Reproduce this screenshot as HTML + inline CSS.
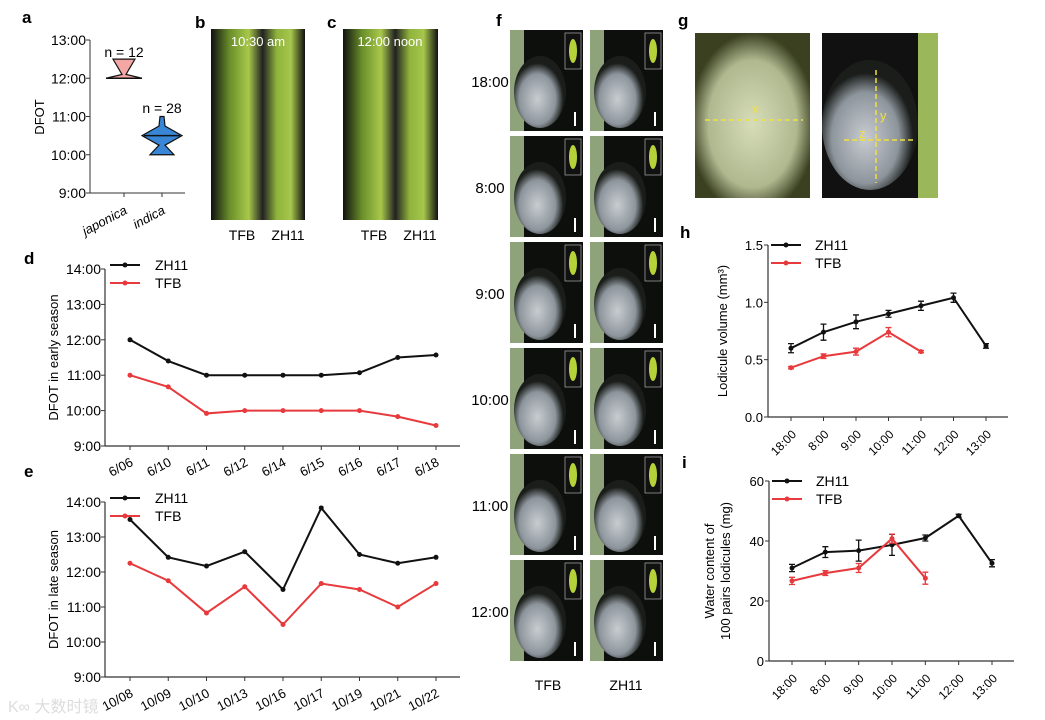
<!DOCTYPE html>
<html><head><meta charset="utf-8"><style>
body{margin:0;background:#fff;width:1045px;height:720px;overflow:hidden;font-family:"Liberation Sans",sans-serif}
svg{position:absolute;left:0;top:0}
</style></head><body>
<svg width="1045" height="720" xmlns="http://www.w3.org/2000/svg" id="fig" font-family="Liberation Sans, sans-serif">
<defs>
<linearGradient id="rice" x1="0" x2="1"><stop offset="0" stop-color="#111"/><stop offset="0.2" stop-color="#6a8f2a"/><stop offset="0.4" stop-color="#a8c84a"/><stop offset="0.55" stop-color="#222"/><stop offset="0.7" stop-color="#8fb33c"/><stop offset="0.85" stop-color="#a6c64c"/><stop offset="1" stop-color="#111"/></linearGradient>
<radialGradient id="lod" cx="0.45" cy="0.6" r="0.5"><stop offset="0" stop-color="#c8ccd0"/><stop offset="0.7" stop-color="#8d959c"/><stop offset="1" stop-color="#1a1d1a"/></radialGradient>
<radialGradient id="gl" cx="0.5" cy="0.55" r="0.55"><stop offset="0" stop-color="#d6ddb8"/><stop offset="0.7" stop-color="#b0b890"/><stop offset="1" stop-color="#3a4020"/></radialGradient>
</defs>
<g font-weight="bold" font-size="17">
<text x="22" y="23">a</text><text x="195" y="28">b</text><text x="327" y="28">c</text><text x="496" y="26">f</text><text x="678" y="26">g</text><text x="24" y="264">d</text><text x="24" y="477">e</text><text x="680" y="238">h</text><text x="682" y="468">i</text>
</g>
<rect x="211" y="29" width="94" height="191" fill="url(#rice)"/>
<rect x="343" y="29" width="95" height="191" fill="url(#rice)"/>
<text x="258" y="46" fill="#fff" font-size="13" text-anchor="middle">10:30 am</text>
<text x="390" y="46" fill="#fff" font-size="13" text-anchor="middle">12:00 noon</text>
<g font-size="14" text-anchor="middle"><text x="242" y="240">TFB</text><text x="288" y="240">ZH11</text><text x="374" y="240">TFB</text><text x="420" y="240">ZH11</text></g>
<g id="fphotos"></g>
<g font-size="14" text-anchor="middle"><text x="548" y="690">TFB</text><text x="626" y="690">ZH11</text></g>
<rect x="695" y="33" width="115" height="165" fill="url(#gl)"/>
<rect x="822" y="33" width="116" height="165" fill="#111"/>
<ellipse cx="870" cy="125" rx="48" ry="65" fill="url(#lod)"/>
<rect x="918" y="33" width="20" height="165" fill="#9ab85a"/>
<g stroke="#f2e040" stroke-width="1.5" stroke-dasharray="5,3" fill="none"><line x1="705" y1="120" x2="803" y2="120"/><line x1="844" y1="140" x2="915" y2="140"/><line x1="876" y1="70" x2="876" y2="183"/></g>
<g fill="#f2e040" font-size="13"><text x="752" y="113">x</text><text x="880" y="120">y</text><text x="859" y="138">z</text></g>
<g id="charts"></g>
<text x="8" y="712" fill="#ddd" font-size="16" font-family="Liberation Sans, Noto Sans CJK SC, sans-serif">K∞ 大数时镜</text>
</svg>
<script>
const NS="http://www.w3.org/2000/svg";
const fCats=["18:00","8:00","9:00","10:00","11:00","12:00"];
const hCats=["18:00","8:00","9:00","10:00","11:00","12:00","13:00"];
const dCats=["6/06","6/10","6/11","6/12","6/14","6/15","6/16","6/17","6/18"];
const dZH11=[12.0,11.4,11.0,11.0,11.0,11.0,11.07,11.5,11.57];
const dTFB=[11.0,10.67,9.92,10.0,10.0,10.0,10.0,9.83,9.58];
const eCats=["10/08","10/09","10/10","10/13","10/16","10/17","10/19","10/21","10/22"];
const eZH11=[13.5,12.42,12.17,12.58,11.5,13.83,12.5,12.25,12.42];
const eTFB=[12.25,11.75,10.83,11.58,10.5,11.67,11.5,11.0,11.67];
const timeTicks=["9:00","10:00","11:00","12:00","13:00","14:00"];
const hZH11=[0.60,0.74,0.83,0.90,0.97,1.04,0.62];
const hZH11err=[0.04,0.07,0.06,0.03,0.04,0.04,0.02];
const hTFB=[0.43,0.53,0.57,0.74,0.57];
const hTFBerr=[0.01,0.02,0.03,0.04,0.01];
const hTicks=[0,0.5,1.0,1.5];
const iZH11=[31,36.3,36.8,38.7,41,48.4,32.6];
const iZH11err=[1.2,1.8,3.5,3.5,1,0.5,1.2];
const iTFB=[26.7,29.3,31,40.8,27.6];
const iTFBerr=[1.2,0.8,1.5,1.5,2];
const iTicks=[0,20,40,60];
const aCats=["japonica","indica"];
const aMin=[12.0,10.0], aMed=[12.05,10.5], aMax=[12.5,11.0];
const aTicks=["9:00","10:00","11:00","12:00","13:00"];

const C=document.getElementById('charts');
function el(t,a,p){const e=document.createElementNS(NS,t);for(const k in a)e.setAttribute(k,a[k]);(p||C).appendChild(e);return e;}
function txt(x,y,s,a,p){const e=el('text',Object.assign({x:x,y:y},a||{}),p);e.textContent=s;return e;}

const FP=document.getElementById('fphotos');
fCats.forEach((c,r)=>{
 const y=30+r*106;
 [510,590].forEach((x,k)=>{
  const ph=el('rect',{x:x,y:y,width:73,height:101,fill:'#0d0f0d'},FP);
  
  
  el('rect',{x:x,y:y,width:14,height:101,fill:'#8fa37a'},FP);
  el('ellipse',{cx:x+30,cy:y+62,rx:26,ry:36,fill:'url(#lod)'},FP);
  el('rect',{x:x+55,y:y+3,width:16,height:36,fill:'#111',stroke:'#999','stroke-width':0.8},FP);
  el('ellipse',{cx:x+63,cy:y+21,rx:4,ry:12,fill:'#b6d23a'},FP);
  el('rect',{x:x+64,y:y+82,width:2,height:14,fill:'#fff'},FP);
 });
 const t=txt(490,y+57,c,{'font-size':15,'text-anchor':'middle'});
 
 
});

(function(){
 const x0=90,y13=40,y9=193;const Y=v=>y9-(v-9)*(y9-y13)/4;
 el('line',{x1:x0,y1:y13,x2:x0,y2:y9,stroke:'#333'});el('line',{x1:x0,y1:y9,x2:185,y2:y9,stroke:'#333'});
 aTicks.forEach((t,i)=>{const y=Y(9+i);el('line',{x1:x0-4,y1:y,x2:x0,y2:y,stroke:'#333'});txt(x0-4,y+5,t,{'font-size':14,'text-anchor':'end'});});
 const xs=[124,162],cols=['#f4a6a4','#3a86d6'];
 aCats.forEach((c,i)=>{const x=xs[i];let d;
  const lo=Y(aMin[i]),md=Y(aMed[i]),hi=Y(aMax[i]);
  if(i===0){d=`M${x-18},${lo} L${x+18},${lo} L${x+2},${Y(aMed[i]+0.05)} L${x+11},${hi} L${x-11},${hi} L${x-2},${Y(aMed[i]+0.05)}Z`;}
  else{const q1=Y((aMin[i]+aMed[i])/2),q3=Y((aMax[i]+aMed[i])/2);
   d=`M${x-12},${lo} L${x+12},${lo} L${x+3},${q1} L${x+20},${md} L${x+3},${q3} L${x+2},${hi} L${x-2},${hi} L${x-3},${q3} L${x-20},${md} L${x-3},${q1}Z`;}
  const v=el('path',{d:d,fill:cols[i],stroke:'#111','stroke-width':1.2});
  
  el('line',{x1:x-18,y1:i?md:lo,x2:x+18,y2:i?md:lo,stroke:'#111','stroke-width':1.5});
  el('line',{x1:x,y1:y9,x2:x,y2:y9+4,stroke:'#333'});
  txt(x+4,y9+20,c,{'font-size':13,'font-style':'italic','text-anchor':'end',transform:`rotate(-28 ${x+4} ${y9+20})`});
 });
 txt(124,57,'n = 12',{'font-size':14,'text-anchor':'middle'});txt(162,113,'n = 28',{'font-size':14,'text-anchor':'middle'});
 txt(0,0,'DFOT',{'font-size':13,'text-anchor':'middle',transform:'translate(44,117) rotate(-90)'});
})();

function timeChart(name,cats,s1,s2,yTop,yBot,title){
 const x0=105,xr=460,xa=130,xb=436;const X=i=>xa+i*(xb-xa)/(cats.length-1);const Y=v=>yBot-(v-9)*(yBot-yTop)/5;
 el('line',{x1:x0,y1:yTop,x2:x0,y2:yBot,stroke:'#333','stroke-width':1.2});el('line',{x1:x0,y1:yBot,x2:xr,y2:yBot,stroke:'#333','stroke-width':1.2});
 timeTicks.forEach((t,i)=>{const y=Y(9+i);el('line',{x1:x0-4,y1:y,x2:x0,y2:y,stroke:'#333'});txt(x0-4,y+5,t,{'font-size':14,'text-anchor':'end'});});
 cats.forEach((c,i)=>{const x=X(i);el('line',{x1:x,y1:yBot,x2:x,y2:yBot+4,stroke:'#333'});txt(x+4,yBot+19,c,{'font-size':13,'text-anchor':'end',transform:`rotate(-28 ${x+4} ${yBot+19})`});});
 [[s1,'#111','ZH11'],[s2,'#e8393c','TFB']].forEach(([s,col,n],k)=>{
  const l=el('polyline',{points:s.map((v,i)=>X(i)+','+Y(v)).join(' '),fill:'none',stroke:col,'stroke-width':2});
  
  s.forEach((v,i)=>el('circle',{cx:X(i),cy:Y(v),r:2.5,fill:col}));
  const ly=yTop+k*18-4;el('line',{x1:110,y1:ly,x2:140,y2:ly,stroke:col,'stroke-width':2});el('circle',{cx:125,cy:ly,r:2.5,fill:col});
  txt(155,ly+5,n,{'font-size':14});
 });
 txt(0,0,title,{'font-size':13,'text-anchor':'middle',transform:`translate(58,${(yTop+yBot)/2}) rotate(-90)`});
}
timeChart('early',dCats,dZH11,dTFB,269,446,'DFOT in early season');
timeChart('late',eCats,eZH11,eTFB,502,677,'DFOT in late season');

function errChart(name,s1,e1,s2,e2,ticks,vmax,yTop,yBot,xa,xb,x0,xr,ttl,fmt){
 const X=i=>xa+i*(xb-xa)/(hCats.length-1);const Y=v=>yBot-v*(yBot-yTop)/vmax;
 el('line',{x1:x0,y1:yTop,x2:x0,y2:yBot,stroke:'#333','stroke-width':1.2});el('line',{x1:x0,y1:yBot,x2:xr,y2:yBot,stroke:'#333','stroke-width':1.2});
 ticks.forEach(t=>{const y=Y(t);el('line',{x1:x0-4,y1:y,x2:x0,y2:y,stroke:'#333'});txt(x0-5,y+5,fmt(t),{'font-size':13,'text-anchor':'end'});});
 hCats.forEach((c,i)=>{const x=X(i);el('line',{x1:x,y1:yBot,x2:x,y2:yBot+4,stroke:'#333'});txt(x+6,yBot+18,c,{'font-size':12,'text-anchor':'end',transform:`rotate(-45 ${x+6} ${yBot+18})`});});
 [[s1,e1,'#111','ZH11'],[s2,e2,'#e8393c','TFB']].forEach(([s,e,col,n],k)=>{
  const l=el('polyline',{points:s.map((v,i)=>X(i)+','+Y(v)).join(' '),fill:'none',stroke:col,'stroke-width':2});
  
  s.forEach((v,i)=>{const x=X(i);el('circle',{cx:x,cy:Y(v),r:2.5,fill:col});
   el('path',{d:`M${x},${Y(v-e[i])}V${Y(v+e[i])}M${x-3},${Y(v-e[i])}h6M${x-3},${Y(v+e[i])}h6`,stroke:col,'stroke-width':1.3,fill:'none'});});
  const ly=yTop+k*18;el('line',{x1:x0+3,y1:ly,x2:x0+33,y2:ly,stroke:col,'stroke-width':2});el('circle',{cx:x0+18,cy:ly,r:2.5,fill:col});
  txt(x0+47,ly+5,n,{'font-size':14});
 });
 return X;
}
errChart('volume',hZH11,hZH11err,hTFB,hTFBerr,hTicks,1.5,245,417,791,986,768,1008,'',t=>t.toFixed(1));
txt(0,0,'Lodicule volume (mm³)',{'font-size':13,'text-anchor':'middle',transform:'translate(727,331) rotate(-90)'});
errChart('water',iZH11,iZH11err,iTFB,iTFBerr,iTicks,60,481,661,792,992,769,1014,'',t=>String(t));
txt(0,0,'Water content of',{'font-size':13,'text-anchor':'middle',transform:'translate(714,571) rotate(-90)'});
txt(0,0,'100 pairs lodicules (mg)',{'font-size':13,'text-anchor':'middle',transform:'translate(730,571) rotate(-90)'});
</script>
</body></html>
